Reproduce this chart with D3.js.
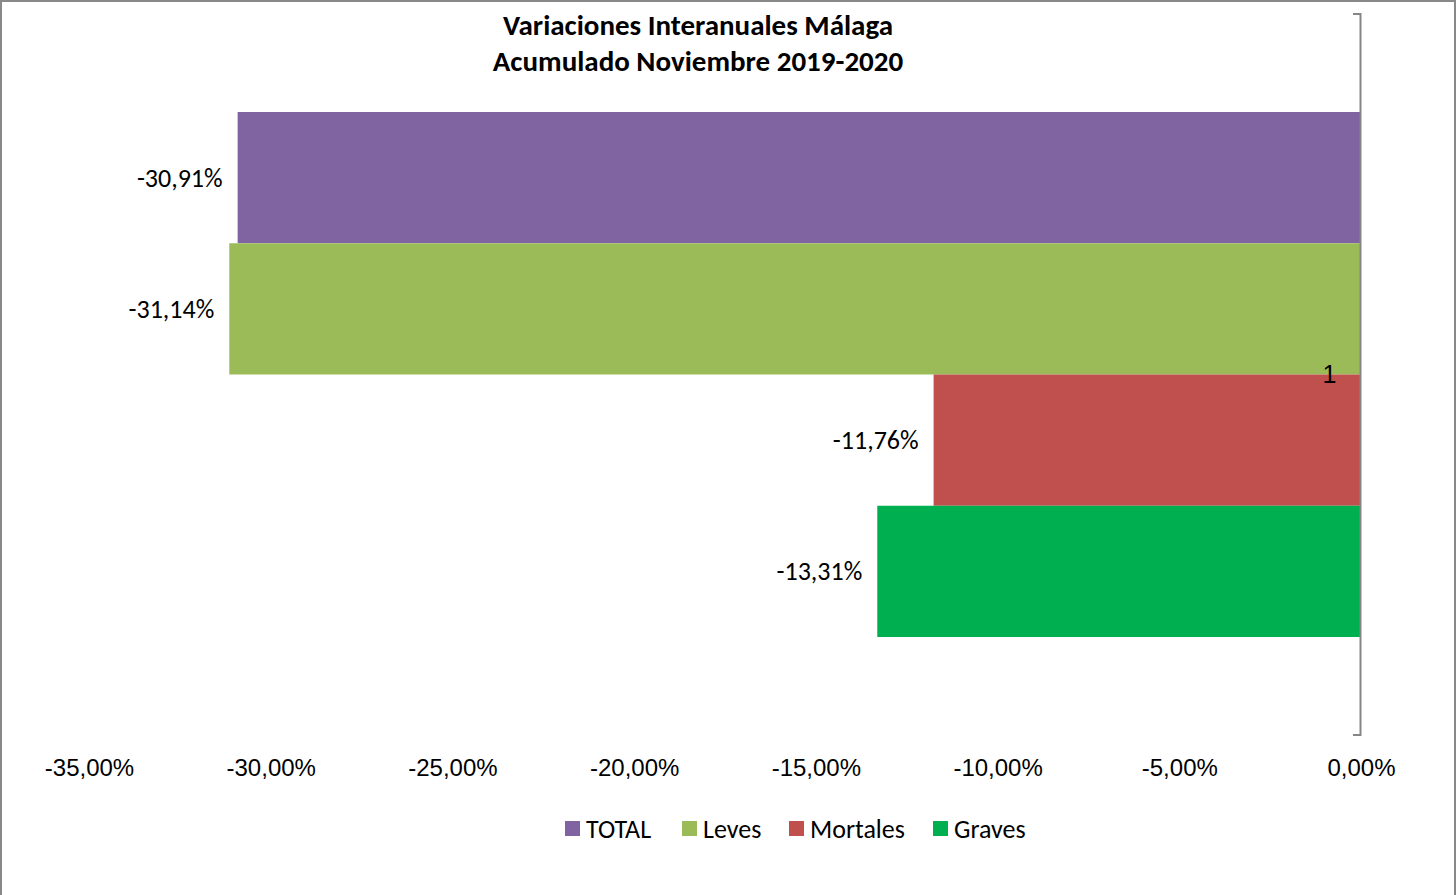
<!DOCTYPE html>
<html>
<head>
<meta charset="utf-8">
<script src="https://cdn.jsdelivr.net/npm/d3@7"></script>
<style>
  body { margin: 0; background: #fff; }
  svg { display: block; font-family: Calibri, Carlito, Lato, "Open Sans", sans-serif; }
</style>
</head>
<body>
<svg id="chart" width="1456" height="895"></svg>
<script>
// data
const categories = ["1"];
const seriesNames = ["TOTAL", "Leves", "Mortales", "Graves"];
const seriesValues = [-30.91, -31.14, -11.76, -13.31];
const seriesColors = ["#8064A2", "#9BBB59", "#C0504D", "#00B050"];
const tickValues = [-35, -30, -25, -20, -15, -10, -5, 0];
const titleLines = ["Variaciones Interanuales Málaga", "Acumulado Noviembre 2019-2020"];

const fmt = v => d3.format(".2f")(v).replace("−", "-").replace(".", ",") + "%";

const svg = d3.select("#chart");

// outer frame
svg.append("rect")
  .attr("x", 1).attr("y", 1)
  .attr("width", 1454).attr("height", 910)
  .attr("fill", "#fff")
  .attr("stroke", "#898989")
  .attr("stroke-width", 2);

const x = d3.scaleLinear().domain([-35, 0]).range([89, 1361]);

const y0 = d3.scaleBand()
  .domain(categories)
  .range([14, 735])
  .paddingInner(0)
  .paddingOuter(0.1867);

const y1 = d3.scaleBand()
  .domain(seriesNames)
  .range([0, y0.bandwidth()]);

const data = seriesNames.map((s, i) => ({ name: s, value: seriesValues[i], color: seriesColors[i], cat: categories[0] }));

// bars
svg.selectAll(".bar")
  .data(data)
  .enter()
  .append("rect")
  .attr("class", "bar")
  .attr("x", d => x(d.value))
  .attr("y", d => y0(d.cat) + y1(d.name))
  .attr("width", d => x(0) - x(d.value))
  .attr("height", y1.bandwidth())
  .attr("fill", d => d.color);

// data labels
svg.selectAll(".dlabel")
  .data(data)
  .enter()
  .append("text")
  .attr("class", "dlabel")
  .attr("x", d => x(d.value) - 15)
  .attr("y", d => y0(d.cat) + y1(d.name) + y1.bandwidth() / 2)
  .attr("dy", "0.35em")
  .attr("text-anchor", "end")
  .attr("font-size", 26)
  .attr("fill", "#000")
  .text(d => fmt(d.value));

// category axis at zero
const yAxis = svg.append("g")
  .attr("transform", `translate(${x(0) - 0.5},0)`)
  .call(d3.axisLeft(y0).tickSize(0).tickPadding(24));
yAxis.select(".domain").remove();
yAxis.selectAll("text").attr("font-size", 25).attr("fill", "#000").attr("font-family", null);

const yr = y0.range();
svg.append("path")
  .attr("d", `M${x(0) - 8},${yr[0]}H${x(0) - 0.5}V${yr[1]}H${x(0) - 8}`)
  .attr("fill", "none")
  .attr("stroke", "#868686")
  .attr("stroke-width", 2);

// value axis labels
const xAxis = svg.append("g")
  .attr("transform", "translate(0,735)")
  .call(d3.axisBottom(x).tickValues(tickValues).tickSize(0).tickPadding(24).tickFormat(fmt));
xAxis.select(".domain").remove();
xAxis.selectAll("text").attr("font-size", 24).attr("fill", "#000").attr("font-family", null);

// title
svg.append("text")
  .attr("x", 698)
  .attr("text-anchor", "middle")
  .attr("font-size", 29)
  .attr("font-weight", "bold")
  .selectAll("tspan")
  .data(titleLines)
  .enter()
  .append("tspan")
  .attr("x", 698)
  .attr("y", (d, i) => 35 + i * 36)
  .text(d => d);

// legend
const legendX = [565, 682, 789, 933];
const legend = svg.selectAll(".legend")
  .data(data)
  .enter()
  .append("g")
  .attr("class", "legend")
  .attr("transform", (d, i) => `translate(${legendX[i]},821)`);
legend.append("rect")
  .attr("width", 15).attr("height", 15)
  .attr("fill", d => d.color);
legend.append("text")
  .attr("x", 21)
  .attr("y", 7.5)
  .attr("dy", "0.35em")
  .attr("font-size", 26)
  .text(d => d.name);
</script>
</body>
</html>
